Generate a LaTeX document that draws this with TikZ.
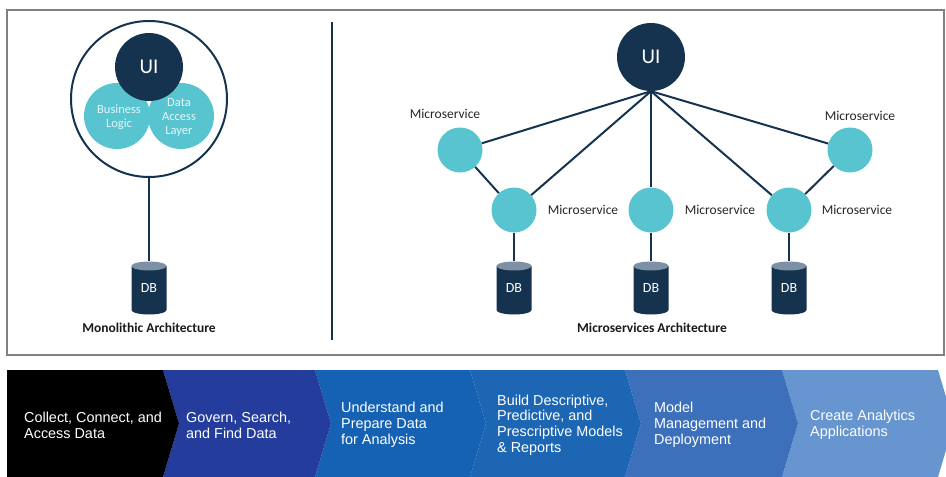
\documentclass[tikz,border=0pt]{standalone}
\usepackage{fontspec}
\setmainfont{Carlito}
\newfontfamily\arialfont{Liberation Sans}
\definecolor{navy}{HTML}{15324F}
\definecolor{teal}{HTML}{58C4CF}
\definecolor{dbtop}{HTML}{7D90A4}
\definecolor{framegray}{HTML}{808080}
\definecolor{lighttxt}{HTML}{E6F6F8}
\definecolor{chA}{HTML}{000000}
\definecolor{chB}{HTML}{243D9C}
\definecolor{chC}{HTML}{1561B3}
\definecolor{chD}{HTML}{1D66B4}
\definecolor{chE}{HTML}{3D70BA}
\definecolor{chF}{HTML}{6695CF}
\tikzset{
  conn/.style={draw=navy, line width=2pt},
  uicirc/.style={circle, fill=navy, minimum size=68pt, inner sep=0pt, text=white, font=\fontsize{21}{23}\selectfont},
  tealcirc/.style={circle, fill=teal, minimum size=66pt, inner sep=0pt},
  tealtxt/.style={text=lighttxt, align=center, font=\fontsize{12.5}{14}\selectfont, inner sep=0pt},
  mscirc/.style={circle, fill=teal, minimum size=45pt, inner sep=0pt},
  mslabel/.style={font=\fontsize{13.5}{15}\selectfont, text=black!85, inner sep=0pt},
  archlabel/.style={font=\bfseries\fontsize{13.5}{15}\selectfont, text=black!90, inner sep=0pt},
  dbcyl/.style={minimum width=35pt, minimum height=53pt, inner sep=0pt, text=white,
    font=\fontsize{14}{16}\selectfont,
    path picture={
      \fill[navy] ([yshift=-4.5pt]path picture bounding box.north west)
        -- ([yshift=4.5pt]path picture bounding box.south west)
        arc[start angle=180, end angle=360, x radius=17.5pt, y radius=4.5pt]
        -- ([yshift=-4.5pt]path picture bounding box.north east) -- cycle;
      \fill[dbtop] ([yshift=-4.5pt]path picture bounding box.north) ellipse[x radius=17.5pt, y radius=4.5pt];
    }},
  bandtext/.style={anchor=west, inner sep=0pt, text=white, align=left,
    font=\arialfont\fontsize{14.4}{15.8}\selectfont},
}
\begin{document}
\begin{tikzpicture}[x=1pt,y=-1pt]
\useasboundingbox (0,0) rectangle (946,477);
% frame
\draw[framegray, line width=1.3pt] (7,10) rectangle (944,355);
\coordinate (divtop) at (332,22);
\coordinate (divbot) at (332,340);
\draw[conn] (divtop) -- (divbot);

% ---------- monolithic ----------
\node[circle, draw=navy, line width=2pt, minimum size=156pt, inner sep=0pt] (mono) at (149,99) {};
\node[tealcirc] (bl) at (117,116) {};
\node[tealcirc] (dal) at (181,116) {};
\node[uicirc] (ui0) at (149,67) {UI};
\node[tealtxt] (bltxt) at (119,117) {Business\\Logic};
\node[tealtxt] (daltxt) at (179,117) {Data\\Access\\Layer};
\node[dbcyl] (db0) at (149,288) {DB};
\draw[conn] (mono) -- (db0);
\node[archlabel] (monolbl) at (149,328) {Monolithic Architecture};

% ---------- microservices ----------
\node[uicirc] (ui) at (651,57) {UI};
\node[mscirc] (ms1) at (460,150) {};
\node[mscirc] (ms2) at (514,210) {};
\node[mscirc] (ms3) at (651,210) {};
\node[mscirc] (ms4) at (789,210) {};
\node[mscirc] (ms5) at (850,150) {};
\node[dbcyl] (db1) at (514,288) {DB};
\node[dbcyl] (db2) at (651,288) {DB};
\node[dbcyl] (db3) at (789,288) {DB};
\draw[conn] (ui.south) -- (ms1);
\draw[conn] (ui.south) -- (ms2);
\draw[conn] (ui.south) -- (ms3);
\draw[conn] (ui.south) -- (ms4);
\draw[conn] (ui.south) -- (ms5);
\draw[conn] (ms1) -- (ms2);
\draw[conn] (ms5) -- (ms4);
\draw[conn] (ms2) -- (db1);
\draw[conn] (ms3) -- (db2);
\draw[conn] (ms4) -- (db3);
\node[mslabel] (l1) at (445,114) {Microservice};
\node[mslabel] (l5) at (860,116) {Microservice};
\node[mslabel] (l2) at (583,210) {Microservice};
\node[mslabel] (l3) at (720,210) {Microservice};
\node[mslabel] (l4) at (857,210) {Microservice};
\node[archlabel] (msarch) at (652,328) {Microservices Architecture};

% ---------- chevron band ----------
\fill[chF] (782,370) -- (938,370) -- (954,423.5) -- (938,477) -- (782,477) -- (798,423.5) -- cycle;
\fill[chE] (625,370) -- (782,370) -- (798,423.5) -- (782,477) -- (625,477) -- (641,423.5) -- cycle;
\fill[chD] (470,370) -- (625,370) -- (641,423.5) -- (625,477) -- (470,477) -- (486,423.5) -- cycle;
\fill[chC] (315,370) -- (470,370) -- (486,423.5) -- (470,477) -- (315,477) -- (331,423.5) -- cycle;
\fill[chB] (163,370) -- (315,370) -- (331,423.5) -- (315,477) -- (163,477) -- (179,423.5) -- cycle;
\fill[chA] (7,370) -- (163,370) -- (179,423.5) -- (163,477) -- (7,477) -- cycle;
\node[bandtext] (t1) at (24,425) {Collect, Connect, and\\Access Data};
\node[bandtext] (t2) at (186,425) {Govern, Search,\\and Find Data};
\node[bandtext] (t3) at (341,425) {Understand and\\Prepare Data\\for Analysis};
\node[bandtext] (t4) at (497,425) {Build Descriptive,\\Predictive, and\\Prescriptive Models\\\& Reports};
\node[bandtext] (t5) at (654,425) {Model\\Management and\\Deployment};
\node[bandtext] (t6) at (810,425) {Create Analytics\\Applications};
\end{tikzpicture}
\end{document}
